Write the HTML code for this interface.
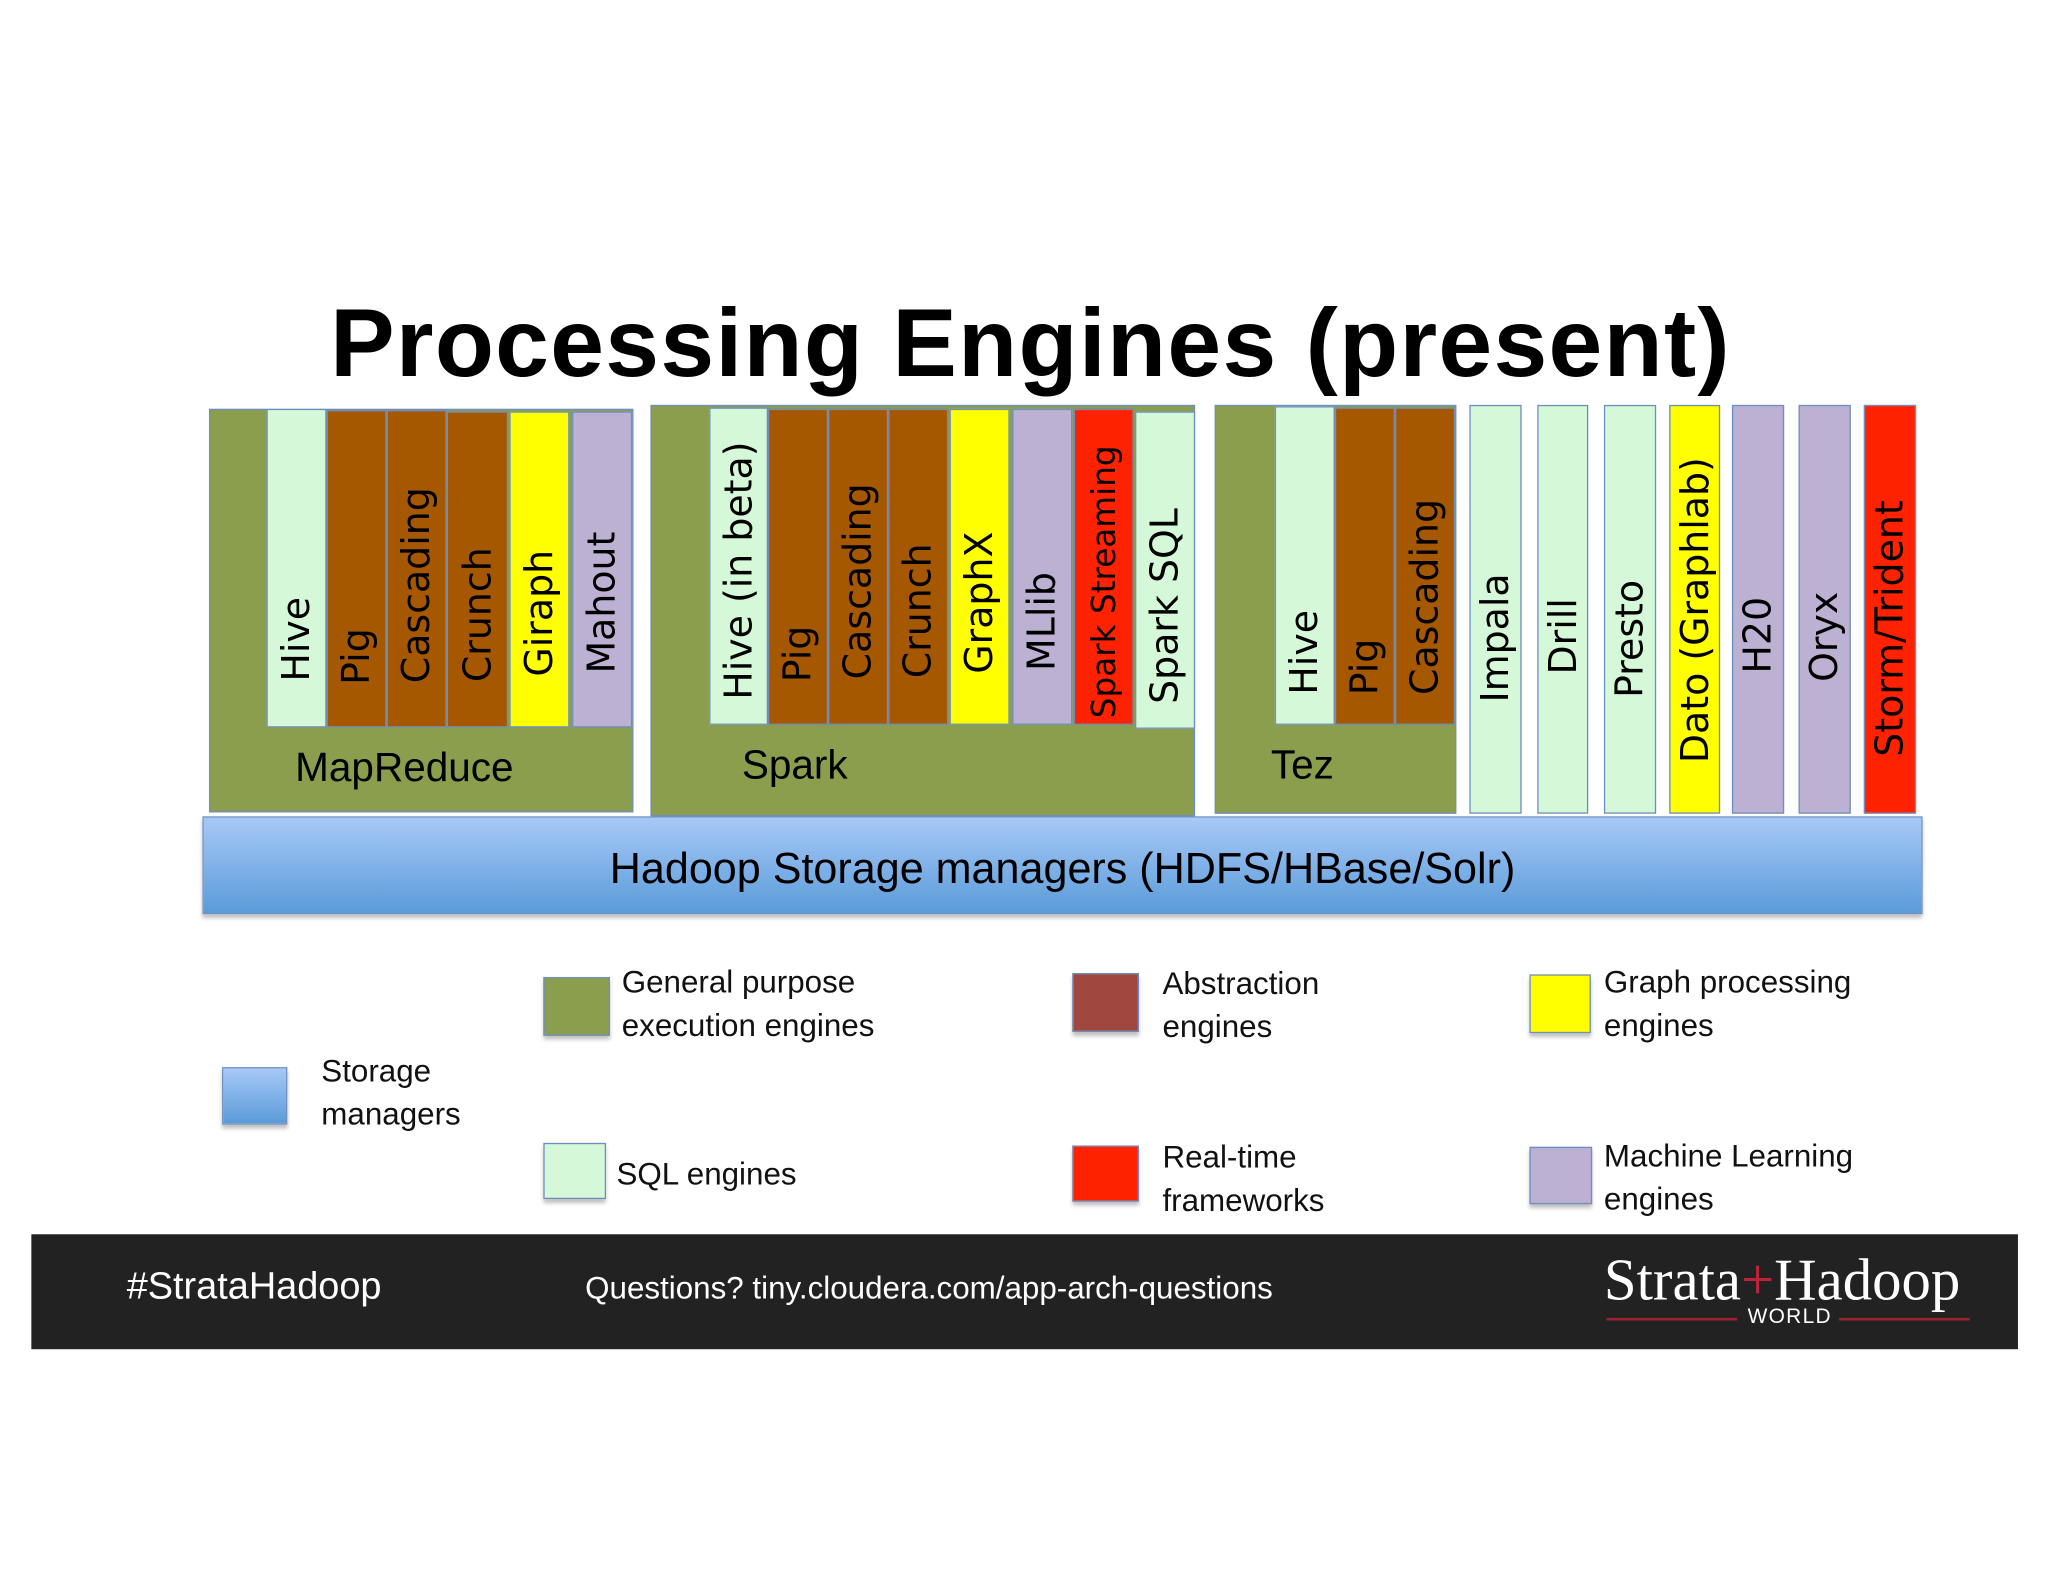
<!DOCTYPE html>
<html><head><meta charset="utf-8"><style>
html,body{margin:0;padding:0;background:#fff;}
body{width:2048px;height:1582px;overflow:hidden;position:relative;}
#s{position:absolute;left:0;top:0;width:1568px;height:1211px;transform:scale(1.30612);transform-origin:0 0;font-family:"Liberation Sans",sans-serif;}
.b{position:absolute;box-sizing:border-box;border:1.5px solid #6f8fc0;}
.g{background:#8a9e4d;}
.q{background:#d5f8d8;}
.a{background:#a65800;}
.y{background:#ffff00;}
.m{background:#bcb1d3;}
.r{background:#ff2200;}
.v{position:absolute;left:50%;writing-mode:vertical-rl;transform:translateX(-50%) rotate(180deg);font-family:"DejaVu Sans",sans-serif;font-size:29px;color:#000;white-space:nowrap;line-height:1;}
.lab{position:absolute;font-size:31px;color:#000;}
.lt{position:absolute;font-size:24px;line-height:33px;color:#111;}
.lb{position:absolute;box-sizing:border-box;border:1.5px solid #6f8fc0;box-shadow:0 3px 3px rgba(0,0,0,0.25);}
</style></head><body><div id="s">
<div style="position:absolute;left:0;width:1568px;top:220px;text-align:center;font-weight:bold;font-size:74px;letter-spacing:1px;padding-left:10px;box-sizing:border-box;">Processing Engines (present)</div>

<!-- MapReduce -->
<div class="b g" style="left:160px;top:313px;width:325px;height:309px;"></div>
<div class="lab" style="left:226px;top:570px;">MapReduce</div>
<div class="b q" style="left:204px;top:313px;width:46px;height:244px;"><span class="v" style="bottom:34px">Hive</span></div>
<div class="b a" style="left:250px;top:314px;width:46px;height:243px;"><span class="v" style="bottom:32px">Pig</span></div>
<div class="b a" style="left:296px;top:314px;width:46px;height:243px;"><span class="v" style="bottom:33px">Cascading</span></div>
<div class="b a" style="left:342px;top:315px;width:47px;height:242px;"><span class="v" style="bottom:34px">Crunch</span></div>
<div class="b y" style="left:390px;top:315px;width:46px;height:242px;"><span class="v" style="bottom:38px">Giraph</span></div>
<div class="b m" style="left:438px;top:315px;width:46px;height:242px;"><span class="v" style="bottom:40px">Mahout</span></div>

<!-- Spark -->
<div class="b g" style="left:498px;top:310px;width:417px;height:315px;"></div>
<div class="lab" style="left:568px;top:568px;">Spark</div>
<div class="b q" style="left:543px;top:312px;width:45px;height:243px;"><span class="v" style="bottom:18px">Hive (in beta)</span></div>
<div class="b a" style="left:588px;top:313px;width:46px;height:242px;"><span class="v" style="bottom:32px">Pig</span></div>
<div class="b a" style="left:634px;top:313px;width:46px;height:242px;"><span class="v" style="bottom:34px">Cascading</span></div>
<div class="b a" style="left:680px;top:313px;width:46px;height:242px;"><span class="v" style="bottom:35px">Crunch</span></div>
<div class="b y" style="left:727px;top:313px;width:46px;height:242px;"><span class="v" style="bottom:38px">GraphX</span></div>
<div class="b m" style="left:775px;top:313px;width:46px;height:242px;"><span class="v" style="bottom:40px">MLlib</span></div>
<div class="b r" style="left:822px;top:313px;width:46px;height:242px;"><span class="v" style="bottom:4px;font-size:25px">Spark Streaming</span></div>
<div class="b q" style="left:869px;top:315px;width:46px;height:243px;"><span class="v" style="bottom:18px">Spark SQL</span></div>

<!-- Tez -->
<div class="b g" style="left:930px;top:310px;width:185px;height:313px;"></div>
<div class="lab" style="left:973px;top:568px;">Tez</div>
<div class="b q" style="left:976px;top:311px;width:46px;height:244px;"><span class="v" style="bottom:22px">Hive</span></div>
<div class="b a" style="left:1022px;top:312px;width:46px;height:243px;"><span class="v" style="bottom:22px">Pig</span></div>
<div class="b a" style="left:1068px;top:312px;width:46px;height:243px;"><span class="v" style="bottom:22px">Cascading</span></div>

<!-- standalone -->
<div class="b q" style="left:1125px;top:310px;width:40px;height:313px;"><span class="v" style="bottom:84px">Impala</span></div>
<div class="b q" style="left:1177px;top:310px;width:39px;height:313px;"><span class="v" style="bottom:106px">Drill</span></div>
<div class="b q" style="left:1228px;top:310px;width:40px;height:313px;"><span class="v" style="bottom:88px">Presto</span></div>
<div class="b y" style="left:1278px;top:310px;width:39px;height:313px;"><span class="v" style="bottom:38px">Dato (Graphlab)</span></div>
<div class="b m" style="left:1326px;top:310px;width:40px;height:313px;"><span class="v" style="bottom:106px">H20</span></div>
<div class="b m" style="left:1377px;top:310px;width:40px;height:313px;"><span class="v" style="bottom:100px">Oryx</span></div>
<div class="b r" style="left:1427px;top:310px;width:40px;height:313px;"><span class="v" style="bottom:43px">Storm/Trident</span></div>

<!-- storage -->
<div class="b" style="left:155px;top:625px;width:1317px;height:75px;background:linear-gradient(#a7c9f7,#5b9bd9);box-shadow:0 3px 3px rgba(0,0,0,0.25);"></div>
<div style="position:absolute;left:155px;width:1317px;top:646px;text-align:center;font-size:33px;">Hadoop Storage managers (HDFS/HBase/Solr)</div>

<!-- legend -->
<div class="lb" style="left:170px;top:817px;width:50px;height:44px;background:linear-gradient(#a7c9f7,#5b9bd9);"></div>
<div class="lt" style="left:246px;top:804px;">Storage<br>managers</div>
<div class="lb g" style="left:416px;top:748px;width:51px;height:45px;"></div>
<div class="lt" style="left:476px;top:736px;">General purpose<br>execution engines</div>
<div class="lb q" style="left:416px;top:875px;width:48px;height:43px;"></div>
<div class="lt" style="left:472px;top:883px;">SQL engines</div>
<div class="lb" style="left:821px;top:745px;width:51px;height:45px;background:#a0483f;"></div>
<div class="lt" style="left:890px;top:737px;">Abstraction<br>engines</div>
<div class="lb r" style="left:821px;top:877px;width:51px;height:43px;"></div>
<div class="lt" style="left:890px;top:870px;">Real-time<br>frameworks</div>
<div class="lb y" style="left:1171px;top:746px;width:47px;height:45px;"></div>
<div class="lt" style="left:1228px;top:736px;">Graph processing<br>engines</div>
<div class="lb m" style="left:1171px;top:878px;width:48px;height:44px;"></div>
<div class="lt" style="left:1228px;top:869px;">Machine Learning<br>engines</div>

<!-- footer -->
<div style="position:absolute;left:24px;top:945px;width:1521px;height:88px;background:#232222;"></div>
<div style="position:absolute;left:97px;top:969px;color:#fff;font-size:29px;">#StrataHadoop</div>
<div style="position:absolute;left:448px;top:973px;color:#fff;font-size:24px;">Questions? tiny.cloudera.com/app-arch-questions</div>
<div style="position:absolute;left:1228px;top:954px;color:#fff;font-family:'Liberation Serif',serif;font-size:45px;">Strata<span style="color:#c0223a">+</span>Hadoop</div>
<div style="position:absolute;left:1230px;top:1009px;width:100px;height:1.5px;background:#9b2233;"></div>
<div style="position:absolute;left:1408px;top:1009px;width:100px;height:1.5px;background:#9b2233;"></div>
<div style="position:absolute;left:1338px;top:1000px;color:#fff;font-size:16px;letter-spacing:1px;">WORLD</div>
</div></body></html>
